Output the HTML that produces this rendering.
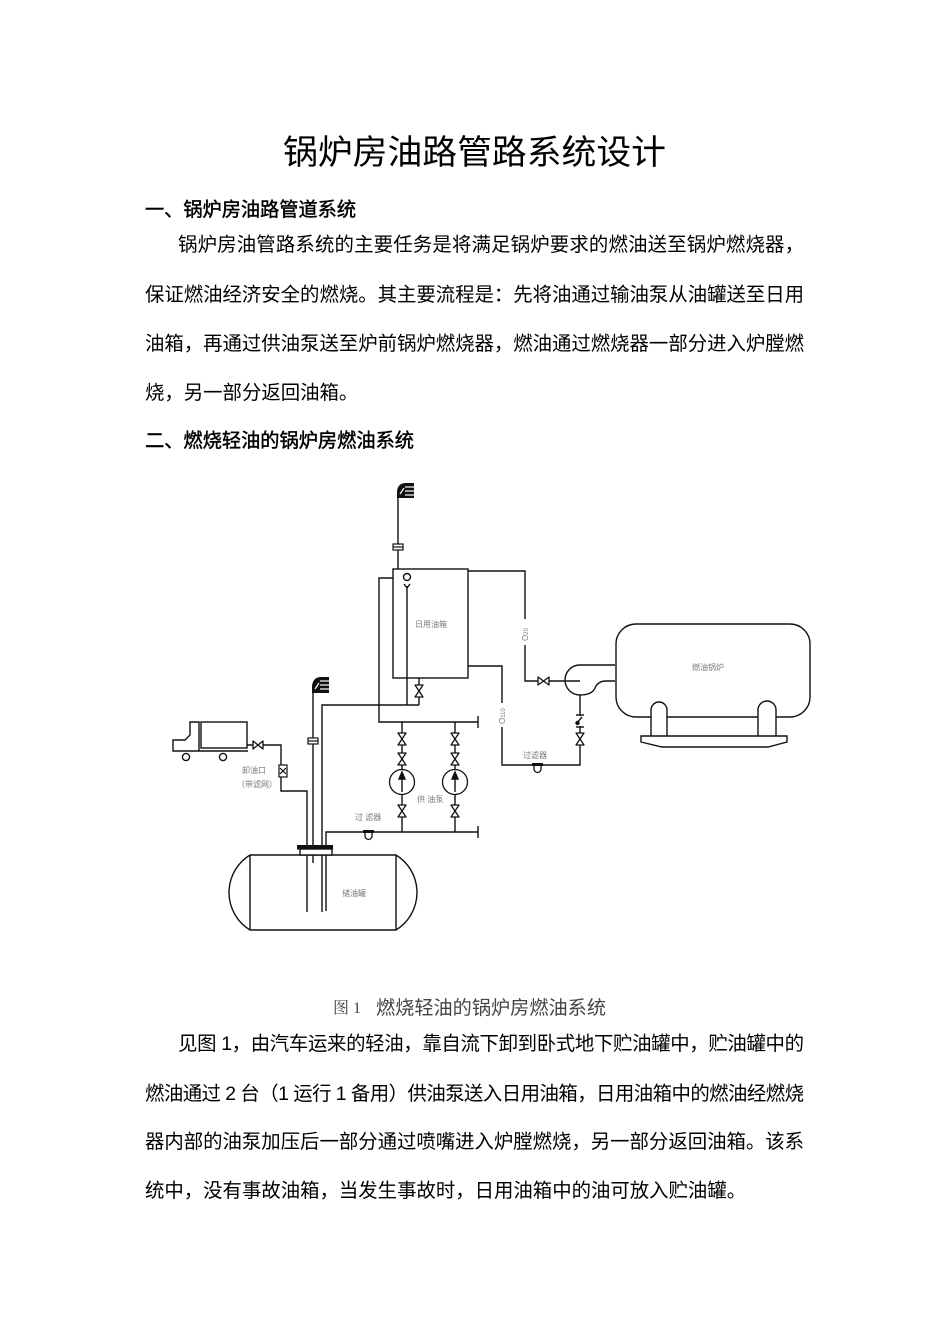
<!DOCTYPE html>
<html><head><meta charset="utf-8">
<style>
html,body{margin:0;padding:0;background:#fff;}
svg{display:block;}
.t{font-family:"Liberation Sans","Noto Sans CJK SC",sans-serif;fill:#000;}
.lb{font-family:"Liberation Sans","Noto Sans CJK SC",sans-serif;fill:#7a7a7a;font-size:8px;}
</style></head>
<body>
<svg width="950" height="1344" viewBox="0 0 950 1344" xmlns="http://www.w3.org/2000/svg">
<rect width="950" height="1344" fill="#fff"/>
<!-- Text -->
<text class="t" x="283" y="164" font-size="34" textLength="383" lengthAdjust="spacingAndGlyphs">锅炉房油路管路系统设计</text>
<text class="t" x="145" y="216" font-size="19.4" stroke="#000" stroke-width="0.45" textLength="211" lengthAdjust="spacingAndGlyphs">一、锅炉房油路管道系统</text>
<text class="t" x="178" y="251" font-size="19.4" textLength="626" lengthAdjust="spacing">锅炉房油管路系统的主要任务是将满足锅炉要求的燃油送至锅炉燃烧器，</text>
<text class="t" x="145" y="301" font-size="19.4" textLength="659" lengthAdjust="spacing">保证燃油经济安全的燃烧。其主要流程是：先将油通过输油泵从油罐送至日用</text>
<text class="t" x="145" y="350" font-size="19.4" textLength="659" lengthAdjust="spacing">油箱，再通过供油泵送至炉前锅炉燃烧器，燃油通过燃烧器一部分进入炉膛燃</text>
<text class="t" x="145" y="399" font-size="19.4">烧，另一部分返回油箱。</text>
<text class="t" x="145" y="447" font-size="19.4" stroke="#000" stroke-width="0.45" textLength="269" lengthAdjust="spacingAndGlyphs">二、燃烧轻油的锅炉房燃油系统</text>

<text x="333" y="1013" font-size="16" fill="#444" font-family="'Liberation Serif','Noto Serif CJK SC',serif">图 1</text>
<text x="376" y="1014" font-size="19" fill="#444" font-family="'Liberation Sans','Noto Sans CJK SC',sans-serif" textLength="230" lengthAdjust="spacingAndGlyphs">燃烧轻油的锅炉房燃油系统</text>

<text class="t" x="178" y="1050" font-size="19.4" textLength="626" lengthAdjust="spacing">见图 1，由汽车运来的轻油，靠自流下卸到卧式地下贮油罐中，贮油罐中的</text>
<text class="t" x="145" y="1100" font-size="19.4" textLength="659" lengthAdjust="spacing">燃油通过 2 台（1 运行 1 备用）供油泵送入日用油箱，日用油箱中的燃油经燃烧</text>
<text class="t" x="145" y="1148" font-size="19.4" textLength="659" lengthAdjust="spacing">器内部的油泵加压后一部分通过喷嘴进入炉膛燃烧，另一部分返回油箱。该系</text>
<text class="t" x="145" y="1197" font-size="19.4">统中，没有事故油箱，当发生事故时，日用油箱中的油可放入贮油罐。</text>

<!-- Diagram -->
<g fill="none" stroke="#111" stroke-width="1.4" stroke-linejoin="miter">
  <line x1="398" y1="497" x2="398" y2="569"/>
  <rect x="393" y="569" width="75" height="109" fill="#fff"/>
  <circle cx="407" cy="577" r="3.5"/>
  <polyline points="404,584 407,588 410,584"/>
  <line x1="407" y1="586" x2="407" y2="705"/>
  <polyline points="393,578 379,578 379,722 478,722"/>
  <line x1="478" y1="716" x2="478" y2="728"/>
  <polyline points="468,571 525,571 525,619"/>
  <polyline points="525,645 525,681 580,681"/>
  <polyline points="468,666 502,666 502,703"/>
  <polyline points="502,727 502,765 580,765 580,695"/>
  <line x1="419" y1="678" x2="419" y2="705"/>
  <polyline points="419,705 322,705 322,912"/>
  <line x1="402" y1="722" x2="402" y2="832"/>
  <line x1="455" y1="722" x2="455" y2="832"/>
  <polyline points="326,911 326,832 478,832"/>
  <line x1="478" y1="826" x2="478" y2="838"/>
  <line x1="313" y1="692" x2="313" y2="863"/>
  <polyline points="247,745 281,745 281,791 307,791 307,912"/>
  <rect x="201" y="722" width="46" height="26"/>
  <polyline points="199,751 199,722 190,722 190,735 185,740 173,740 173,751 248,751"/>
  <circle cx="186" cy="757" r="3.6" fill="#fff"/>
  <circle cx="223" cy="757" r="3.6" fill="#fff"/>
  <line x1="250" y1="855" x2="396" y2="855"/>
  <line x1="250" y1="930" x2="396" y2="930"/>
  <line x1="250" y1="855" x2="250" y2="930"/>
  <line x1="396" y1="855" x2="396" y2="930"/>
  <path d="M250,855 A44,44 0 0 0 250,930"/>
  <path d="M396,855 A44,44 0 0 1 396,930"/>
  <rect x="300" y="849" width="32" height="6" fill="#fff"/>
  <path d="M615,665 L580,665 A15,15 0 0 0 580,695 Q592,695 595,688 Q598,681 606,681 L615,681"/>
  <rect x="616" y="624" width="194" height="93" rx="20" ry="20" fill="#fff"/>
  <path d="M651,736 L651,710 A8,8 0 0 1 667,710 L667,736" fill="#fff"/>
  <path d="M758,736 L758,710 A9,9 0 0 1 776,710 L776,736" fill="#fff"/>
  <polygon points="641,736 787,736 787,742 768,747 662,747 641,742" fill="#fff"/>
  <line x1="576" y1="715" x2="584" y2="715"/>
  <line x1="576" y1="727" x2="584" y2="727"/>
</g>
<rect x="578" y="716" width="4" height="10" fill="#fff"/>
<g fill="none" stroke="#111" stroke-width="1.4">
  <line x1="576" y1="724" x2="582" y2="717"/>
  <circle cx="577.5" cy="723" r="1.5" fill="#111"/>
</g>

<g>
  <path d="M397,498 L397,491 Q398,483 406,483 L414,483 L414,498 Z" fill="#111"/>
  <g stroke="#fff" stroke-width="1.2">
    <line x1="405" y1="487" x2="414" y2="487"/>
    <line x1="405" y1="491" x2="414" y2="491"/>
    <line x1="405" y1="495" x2="414" y2="495"/>
    <line x1="400" y1="494" x2="404" y2="488"/>
  </g>
  <path d="M312,693 L312,686 Q313,677 321,677 L329,677 L329,693 Z" fill="#111"/>
  <g stroke="#fff" stroke-width="1.2">
    <line x1="320" y1="681" x2="329" y2="681"/>
    <line x1="320" y1="685" x2="329" y2="685"/>
    <line x1="320" y1="689" x2="329" y2="689"/>
    <line x1="315" y1="689" x2="319" y2="683"/>
  </g>
</g>
<g fill="#fff" stroke="#111" stroke-width="1.2">
  <rect x="393" y="544" width="10" height="6"/>
  <line x1="393" y1="547" x2="403" y2="547"/>
  <rect x="308" y="738" width="10" height="6"/>
  <line x1="308" y1="741" x2="318" y2="741"/>
  <rect x="279" y="765" width="8" height="12"/>
  <line x1="280" y1="768" x2="286" y2="774"/>
  <line x1="286" y1="768" x2="280" y2="774"/>
</g>
<rect x="297" y="845" width="36" height="4.5" fill="#111"/>

<g fill="#fff" stroke="#111" stroke-width="1.3" stroke-linejoin="round">
  <path d="M415,685 L423,685 L419,691 Z M415,697 L423,697 L419,691 Z"/>
  <path d="M398,733 L406,733 L402,739 Z M398,745 L406,745 L402,739 Z"/>
  <path d="M398,753 L406,753 L402,759 Z M398,765 L406,765 L402,759 Z"/>
  <path d="M398,805 L406,805 L402,811 Z M398,817 L406,817 L402,811 Z"/>
  <path d="M451,733 L459,733 L455,739 Z M451,745 L459,745 L455,739 Z"/>
  <path d="M451,753 L459,753 L455,759 Z M451,765 L459,765 L455,759 Z"/>
  <path d="M451,805 L459,805 L455,811 Z M451,817 L459,817 L455,811 Z"/>
  <path d="M576,733 L584,733 L580,739 Z M576,745 L584,745 L580,739 Z"/>
  <path d="M538,677 L538,685 L543.5,681 Z M549,677 L549,685 L543.5,681 Z"/>
  <path d="M253,741 L253,749 L258,745 Z M263,741 L263,749 L258,745 Z"/>
  <circle cx="402" cy="782" r="12.5"/>
  <circle cx="455" cy="782" r="12.5"/>
</g>
<g stroke="#111" stroke-width="1.4" fill="#111">
  <line x1="402" y1="792" x2="402" y2="777"/>
  <path d="M399,779 L402,772 L405,779 Z"/>
  <line x1="455" y1="792" x2="455" y2="777"/>
  <path d="M452,779 L455,772 L458,779 Z"/>
</g>
<g>
  <rect x="532" y="763" width="11" height="3" fill="#111"/>
  <path d="M534,766 L534,769 A3.5,3.5 0 0 0 541,769 L541,766" fill="#fff" stroke="#111" stroke-width="1.3"/>
  <rect x="363" y="830" width="11" height="3" fill="#111"/>
  <path d="M365,833 L365,836 A3.5,3.5 0 0 0 372,836 L372,833" fill="#fff" stroke="#111" stroke-width="1.3"/>
</g>

<text class="lb" x="415" y="627">日用油箱</text>
<text class="lb" x="692" y="670">燃油锅炉</text>
<text class="lb" x="342" y="896">储油罐</text>
<text class="lb" x="355" y="820">过 滤器</text>
<text class="lb" x="523" y="758">过滤器</text>
<text class="lb" x="417" y="802">供 油泵</text>
<text class="lb" x="242" y="773">卸油口</text>
<text class="lb" x="237" y="787">（带滤网）</text>
<text class="lb" x="0" y="0" transform="translate(528,641) rotate(-90)" font-size="9">O<tspan font-size="6">20</tspan></text>
<text class="lb" x="0" y="0" transform="translate(505,724) rotate(-90)" font-size="9">O<tspan font-size="6">110</tspan></text>
</svg>
</body></html>
